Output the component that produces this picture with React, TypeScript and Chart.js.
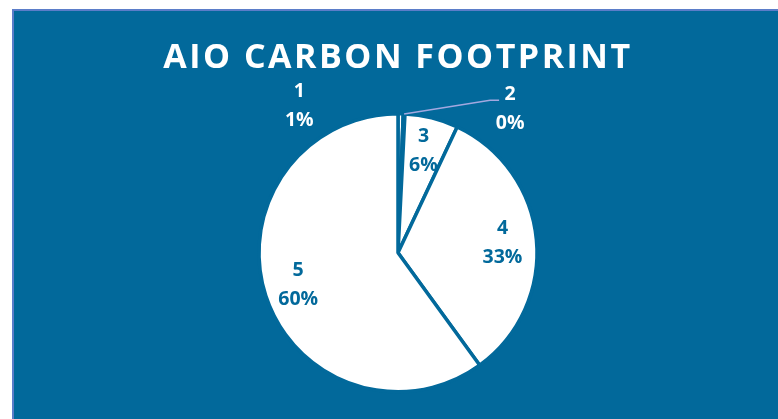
import React, { useEffect, useRef } from "react";
import { Chart, registerables } from "chart.js";

Chart.register(...registerables);

const TITLE = "AIO CARBON FOOTPRINT";
const categories = ["1", "2", "3", "4", "5"];
const values = [0.6, 0.2, 6.2, 33.0, 60.0];

const BG = "#02699b";
const FRAME = "#5b7dc9";
const LEADER = "#a3a8e0";
const FONT = '"Open Sans", "DejaVu Sans", sans-serif';

// label placement: inside at slice mid-angle (fraction of radius),
// or outside at a given angle (deg clockwise from 12 o'clock) and distance factor
const labelPlacement = [
  { outside: true, angle: 326, dist: 1.27, leader: false },
  { outside: true, angle: 38, dist: 1.31, leader: true },
  { outside: false, angle: 0, dist: 0.755, leader: false },
  { outside: false, angle: 0, dist: 0.755, leader: false },
  { outside: false, angle: 0, dist: 0.755, leader: false },
];

const labelPlugin = {
  id: "pieLabels",
  afterDatasetsDraw(chart: any) {
    const ctx = chart.ctx;
    const meta = chart.getDatasetMeta(0);
    const data = chart.data.datasets[0].data as number[];
    const total = data.reduce((a, b) => a + b, 0);
    ctx.save();
    meta.data.forEach((el: any, i: number) => {
      const p = el.getProps(["x", "y", "startAngle", "endAngle", "outerRadius"], true);
      const mid = (p.startAngle + p.endAngle) / 2;
      const pl = labelPlacement[i];
      const a = pl.outside ? (pl.angle * Math.PI) / 180 - Math.PI / 2 : mid;
      const lx = p.x + Math.cos(a) * p.outerRadius * pl.dist;
      const ly = p.y + Math.sin(a) * p.outerRadius * pl.dist;
      if (pl.leader) {
        const sx = p.x + Math.cos(mid) * p.outerRadius;
        const sy = p.y + Math.sin(mid) * p.outerRadius;
        ctx.strokeStyle = LEADER;
        ctx.lineWidth = 1.5;
        ctx.beginPath();
        ctx.moveTo(sx, sy);
        ctx.lineTo(lx - 20, ly - 9);
        ctx.lineTo(lx - 11, ly - 9);
        ctx.stroke();
      }
      const pct = Math.round((data[i] / total) * 100) + "%";
      ctx.fillStyle = pl.outside ? "#ffffff" : BG;
      ctx.font = `bold 19.5px ${FONT}`;
      ctx.textAlign = "center";
      ctx.textBaseline = "middle";
      ctx.fillText(String(chart.data.labels[i]), lx, ly - 14.5);
      ctx.fillText(pct, lx, ly + 14.5);
    });
    ctx.restore();
  },
};

const titlePlugin = {
  id: "customTitle",
  afterDraw(chart: any) {
    const ctx = chart.ctx;
    ctx.save();
    ctx.fillStyle = "#ffffff";
    ctx.font = `bold 34px ${FONT}`;
    (ctx as any).letterSpacing = "2.5px";
    ctx.textAlign = "center";
    ctx.textBaseline = "alphabetic";
    ctx.fillText(TITLE, 398, 68);
    ctx.restore();
  },
};

export default function App() {
  const ref = useRef<HTMLCanvasElement | null>(null);
  useEffect(() => {
    if (!ref.current) return;
    const chart = new Chart(ref.current, {
      type: "pie",
      data: {
        labels: categories,
        datasets: [
          {
            data: values,
            backgroundColor: "#ffffff",
            borderColor: BG,
            borderWidth: 3.5,
            hoverOffset: 0,
          },
        ],
      },
      options: {
        animation: false,
        responsive: false,
        devicePixelRatio: 1,
        layout: { padding: { top: 112, bottom: 25.5, left: 18, right: 0 } },
        plugins: {
          legend: { display: false },
          tooltip: { enabled: false },
          title: { display: false },
        },
      },
      plugins: [labelPlugin, titlePlugin],
    });
    return () => chart.destroy();
  }, []);

  return (
    <div style={{ position: "fixed", left: 0, top: 0, width: 778, height: 419, background: "#ffffff", overflow: "hidden" }}>
      <div
        style={{
          position: "absolute",
          left: 12,
          top: 9,
          right: 0,
          bottom: 0,
          background: BG,
          borderTop: `2px solid ${FRAME}`,
          borderLeft: `2px solid ${FRAME}`,
        }}
      />
      <canvas ref={ref} width={778} height={419} style={{ position: "absolute", left: 0, top: 0, width: 778, height: 419 }} />
    </div>
  );
}
